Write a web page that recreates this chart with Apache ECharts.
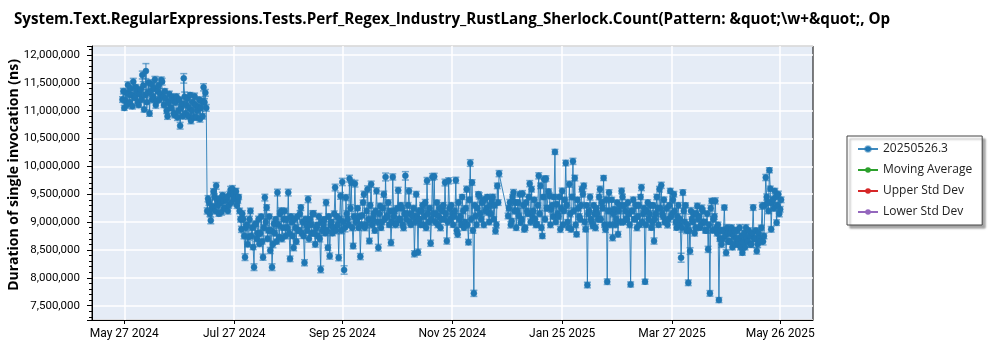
<!DOCTYPE html>
<html>
<head>
<meta charset="utf-8">
<script src="https://cdn.jsdelivr.net/npm/echarts@6/dist/echarts.min.js"></script>
<style>
  html, body { margin: 0; padding: 0; background: #ffffff; }
  #chart { width: 1000px; height: 350px; }
</style>
</head>
<body>
<div id="chart"></div>
<script>
// Benchmark history: two runs per day (morning / evening), duration in ns.
const chartTitle = 'System.Text.RegularExpressions.Tests.Perf_Regex_Industry_RustLang_Sherlock.Count(Pattern: &quot;\\w+&quot;, Op';
const yAxisTitle = 'Duration of single invocation (ns)';
const seriesNames = ['20250526.3', 'Moving Average', 'Upper Std Dev', 'Lower Std Dev'];
const seriesColors = ['#1f77b4', '#2ca02c', '#d62728', '#9467bd'];

const firstRunDate = '2024-05-26';
// null = no run that day
const morningRuns = [
  11200000, 11050000, 11320000, 11460000, 11150000, 11280000, 11520000, 11230000, 11350000, 11100000,
  11380000, 11640000, 11020000, 11710000, 11320000, 10950000, 11480000, 11250000, 11560000, 11180000,
  11450000, 11300000, 11520000, 11100000, 11220000, 10900000, 11300000, 11050000, 11180000, 10920000,
  11250000, 11000000, 10730000, 11120000, 11580000, 10950000, 11220000, 11050000, 10820000, 11150000,
  11260000, 10880000, 11060000, 10850000, 11170000, 11420000, 11320000, 9200000, 9350000, 9030000,
  9280000, 9450000, 9650000, 9300000, 9420000, 9180000, 9380000, 9250000, 9450000, 9300000,
  9580000, 9600000, 9420000, 9550000, 9380000, 9200000, 8870000, 9050000, 8370000, 8950000,
  8730000, 9200000, 8900000, 8190000, 8970000, 8800000, 8610000, 9100000, 8370000, 9440000,
  9260000, 8850000, 8490000, 8190000, 8970000, 9050000, 9530000, 8730000, 9200000, 8900000,
  9200000, 9050000, 9530000, 8340000, 9000000, 8540000, 8900000, 9100000, 8850000, 9260000,
  9000000, 8270000, 8950000, 9410000, 9050000, 8800000, 9150000, 8600000, 8950000, 9100000,
  8150000, 8850000, 9050000, 9350000, 8540000, 8390000, 9000000, 8900000, 9620000, 9100000,
  8360000, 9470000, 9720000, 8140000, 9440000, 9050000, 9780000, 9710000, 8570000, 9690000,
  9050000, 8900000, 8380000, 9120000, 9500000, 8950000, 9590000, 8660000, 9680000, 9050000,
  8850000, 9560000, 8540000, 9290000, 9000000, 9500000, 9810000, 9100000, 8950000, 8630000,
  9810000, 9200000, 8980000, 9570000, 9050000, 9250000, 8900000, 9830000, 9150000, 9560000,
  8950000, 9100000, 8430000, 9500000, 8460000, 9050000, 9200000, 8950000, 9350000, 9740000,
  9000000, 8620000, 9810000, 9820000, 9150000, 8950000, 9250000, 9050000, 9300000, 9710000,
  8660000, 9740000, 9050000, 9150000, 9100000, 9750000, 8780000, 9050000, 8950000, 9200000,
  9000000, 9590000, 8640000, 10060000, 9710000, 7720000, 9110000, 9250000, 9470000, 9050000,
  9380000, 9410000, 9250000, 9170000, 9300000, 9380000, 9050000, 8840000, 9650000, 9870000,
  null, null, null, null, 9110000, 9350000, 9020000, 9530000, 9350000, 9200000,
  9110000, 8990000, 9510000, 8870000, 9350000, 9150000, 9690000, 9590000, 9200000, 9050000,
  8960000, 9830000, 9650000, 8750000, 9770000, 9780000, 9250000, 9470000, 9230000, 9100000,
  10260000, 9320000, 9100000, 8870000, 9560000, 9200000, 10060000, 9000000, 9680000, 8870000,
  10090000, 9790000, 8780000, 9250000, 9050000, 9590000, 9650000, 8870000, 7870000, 9200000,
  9050000, 8930000, 9150000, 9250000, 9050000, 9590000, 9350000, 9790000, 8870000, 7930000,
  9530000, 9200000, 8720000, 9230000, 9050000, 8780000, 9300000, 9560000, 9000000, 9200000,
  9050000, 9150000, 7880000, 9200000, 9050000, 9300000, 9100000, 8950000, 9620000, 9150000,
  7930000, 9200000, 9050000, 9300000, 9000000, 8660000, 9150000, 9250000, 9590000, 9660000,
  9100000, 9000000, 9250000, 9050000, 9560000, 9150000, 9500000, 9000000, 9100000, 8950000,
  8360000, 9530000, 9000000, 8850000, 7910000, 8480000, 9050000, 9150000, 8900000, 9290000,
  9100000, 8950000, 9200000, 9000000, 8850000, 8510000, 7720000, 9380000, 9050000, 9380000,
  8800000, 7600000, 8850000, 8700000, 9260000, 8450000, 8800000, 8650000, 8900000, 8750000,
  8600000, 8850000, 8700000, 8550000, 8450000, 8800000, 8900000, 8650000, 8750000, 8600000,
  9260000, 8700000, 8480000, 8800000, 8650000, 9290000, 8750000, 9800000, 9350000, 9930000,
  8870000, 9410000, 9560000, 8990000, 9500000, 9230000
];
const eveningRuns = [
  11350000, 11180000, 11100000, 11300000, 11400000, 11080000, 11250000, 11420000, 11150000, 11300000,
  11200000, 11450000, 11280000, 11150000, 11500000, 11350000, 11200000, 11400000, 11100000, 11350000,
  11200000, 11550000, 11250000, 11350000, 11000000, 11150000, 11050000, 11250000, 10950000, 11150000,
  10880000, 11200000, 11050000, 10900000, 11250000, 11100000, 10900000, 11280000, 11000000, 10880000,
  11100000, 11000000, 11200000, 11050000, 10900000, 11150000, 11050000, 9420000, 9150000, 9250000,
  9550000, 9200000, 9400000, 9150000, 9350000, 9480000, 9250000, 9400000, 9200000, 9500000,
  9350000, 9480000, 9550000, 9300000, 9450000, 9050000, 9150000, 8750000, 8900000, 8600000,
  9050000, 8750000, 8550000, 8950000, 8700000, 9050000, 8800000, 8650000, 8900000, 9000000,
  8700000, 9100000, 8850000, 8600000, 8800000, 8650000, 8950000, 9150000, 8700000, 9050000,
  8750000, 8900000, 8800000, 9100000, 8750000, 9050000, 8650000, 8850000, 9150000, 8800000,
  8750000, 9050000, 8850000, 8700000, 8950000, 9150000, 8800000, 8900000, 8750000, 8700000,
  9000000, 8950000, 8800000, 8850000, 9100000, 8950000, 8800000, 9150000, 8850000, 8950000,
  9050000, 8850000, 9000000, 8900000, 9150000, 8950000, 9250000, 8900000, 9100000, 9000000,
  9250000, 9100000, 8950000, 9350000, 8900000, 9200000, 9050000, 9300000, 8950000, 9150000,
  9200000, 9000000, 9150000, 8900000, 9250000, 9050000, 9100000, 9350000, 9200000, 9000000,
  9100000, 8950000, 9250000, 9050000, 9300000, 8950000, 9150000, 9050000, 9300000, 9000000,
  9150000, 9250000, 9000000, 9100000, 9200000, 8950000, 9300000, 9100000, 8900000, 9150000,
  9250000, 9050000, 9150000, 9000000, 9350000, 9100000, 8900000, 9200000, 9050000, 9150000,
  9000000, 9250000, 9300000, 8950000, 9200000, 8850000, 9350000, 9100000, 9450000, 8900000,
  9250000, 8950000, 9400000, 9050000, 8850000, 9300000, 8950000, 9500000, 9150000, 9350000,
  8950000, 9200000, 9450000, 9000000, 9150000, 9450000, 9300000, 8950000, 9350000, null,
  null, null, null, null, 9250000, 8950000, 9450000, 9200000, 8900000, 9350000,
  9500000, 9050000, 9300000, 8900000, 9200000, 9450000, 9000000, 9100000, 9400000, 8950000,
  9300000, 9150000, 8900000, 9450000, 9050000, 9250000, 9550000, 8950000, 9300000, 9450000,
  9000000, 9150000, 9450000, 9250000, 8950000, 9400000, 9300000, 8900000, 9150000, 9450000,
  9200000, 8950000, 9400000, 9100000, 9300000, 9500000, 9000000, 9300000, 9150000, 9450000,
  9000000, 9300000, 8900000, 9150000, 9450000, 9050000, 9250000, 8950000, 9400000, 9200000,
  8950000, 9400000, 9150000, 8950000, 9350000, 9200000, 9000000, 9450000, 9300000, 9050000,
  9350000, 8950000, 9200000, 9400000, 9050000, 8900000, 9300000, 9450000, 9000000, 9250000,
  8950000, 9350000, 9150000, 8900000, 9300000, 9050000, 9450000, 8950000, 9250000, 9150000,
  9400000, 9000000, 8950000, 9300000, 9100000, 9400000, 9200000, 8900000, 9300000, 9050000,
  8900000, 9200000, 9300000, 8950000, 8850000, 9200000, 9000000, 8800000, 9150000, 9050000,
  8900000, 9250000, 9000000, 8850000, 9150000, 8950000, 9250000, 8850000, 9100000, 8900000,
  8950000, 8700000, 8600000, 8850000, 8750000, 8900000, 8650000, 8800000, 8550000, 8850000,
  8700000, 8600000, 8900000, 8750000, 8650000, 8550000, 8700000, 8850000, 8600000, 8800000,
  8700000, 8850000, 8600000, 8700000, 8900000, 8650000, 9300000, 9450000, 9200000, 9600000,
  9350000, 9250000, 9450000, 9300000, 9150000, 9400000
];
// half-width of that day's error bars, ns
const errors = [
  50000, 45000, 55000, 60000, 45000, 50000, 60000, 50000, 55000, 45000,
  55000, 70000, 45000, 135000, 55000, 50000, 60000, 50000, 55000, 45000,
  50000, 55000, 60000, 45000, 50000, 55000, 50000, 45000, 55000, 50000,
  55000, 45000, 60000, 50000, 85000, 50000, 55000, 45000, 55000, 50000,
  55000, 50000, 45000, 55000, 50000, 65000, 60000, 55000, 50000, 60000,
  50000, 55000, 60000, 45000, 50000, 55000, 50000, 45000, 55000, 50000,
  60000, 55000, 50000, 55000, 45000, 50000, 55000, 50000, 60000, 45000,
  55000, 50000, 45000, 60000, 50000, 55000, 50000, 45000, 55000, 60000,
  50000, 45000, 55000, 60000, 50000, 45000, 60000, 50000, 55000, 45000,
  50000, 55000, 60000, 50000, 45000, 55000, 50000, 45000, 55000, 50000,
  45000, 55000, 50000, 60000, 45000, 50000, 55000, 50000, 45000, 55000,
  60000, 50000, 45000, 55000, 50000, 55000, 45000, 50000, 60000, 50000,
  55000, 60000, 65000, 75000, 55000, 50000, 60000, 55000, 50000, 60000,
  45000, 50000, 55000, 45000, 55000, 50000, 60000, 50000, 55000, 45000,
  50000, 55000, 60000, 50000, 45000, 55000, 70000, 50000, 45000, 55000,
  55000, 50000, 45000, 55000, 50000, 45000, 55000, 75000, 50000, 55000,
  45000, 50000, 55000, 50000, 55000, 45000, 50000, 45000, 55000, 60000,
  50000, 55000, 60000, 55000, 45000, 50000, 55000, 45000, 50000, 60000,
  55000, 55000, 50000, 45000, 50000, 55000, 55000, 50000, 45000, 50000,
  45000, 55000, 50000, 60000, 50000, 55000, 50000, 45000, 55000, 50000,
  50000, 55000, 45000, 50000, 55000, 50000, 45000, 55000, 50000, 55000,
  null, null, null, null, 50000, 55000, 45000, 55000, 50000, 45000,
  50000, 45000, 55000, 50000, 45000, 50000, 55000, 50000, 45000, 50000,
  45000, 55000, 50000, 45000, 55000, 50000, 45000, 50000, 55000, 45000,
  45000, 50000, 45000, 55000, 50000, 45000, 50000, 45000, 55000, 50000,
  55000, 50000, 45000, 50000, 55000, 50000, 50000, 45000, 50000, 55000,
  45000, 50000, 55000, 45000, 50000, 55000, 50000, 45000, 55000, 50000,
  50000, 45000, 55000, 50000, 45000, 50000, 55000, 50000, 45000, 50000,
  55000, 50000, 45000, 50000, 45000, 55000, 50000, 45000, 55000, 50000,
  45000, 50000, 55000, 45000, 50000, 55000, 50000, 45000, 50000, 55000,
  50000, 45000, 55000, 50000, 45000, 60000, 50000, 45000, 50000, 55000,
  80000, 50000, 45000, 55000, 50000, 60000, 45000, 50000, 55000, 50000,
  45000, 55000, 50000, 45000, 50000, 55000, 50000, 45000, 50000, 55000,
  50000, 45000, 55000, 50000, 45000, 55000, 50000, 45000, 50000, 55000,
  45000, 50000, 55000, 50000, 45000, 50000, 55000, 45000, 50000, 55000,
  50000, 45000, 55000, 50000, 45000, 60000, 50000, 55000, 50000, 45000,
  50000, 55000, 45000, 50000, 55000, 50000
];

const tickDates = ['2024-05-27', '2024-07-27', '2024-09-25', '2024-11-25', '2025-01-25', '2025-03-27', '2025-05-26'];
const tickLabels = ['May 27 2024', 'Jul 27 2024', 'Sep 25 2024', 'Nov 25 2024', 'Jan 25 2025', 'Mar 27 2025', 'May 26 2025'];
const xRange = ['2024-05-09T02:00:00Z', '2025-06-13T05:00:00Z'];
const yRange = [7242000, 12161000];
const yStep = 500000;

const DAY_MS = 86400000;
const TITLE_FONT = '"Open Sans", "Noto Sans", sans-serif';
const LABEL_FONT = 'Roboto, "Open Sans", sans-serif';
const startTs = Date.parse(firstRunDate + 'T00:00:00Z');
const tickTs = tickDates.map(d => Date.parse(d + 'T00:00:00Z'));

// merge both daily runs into one time-ordered list
const points = [];
const bars = [];
morningRuns.forEach((am, i) => {
  const dayTs = startTs + i * DAY_MS;
  [[dayTs, am], [dayTs + DAY_MS / 2, eveningRuns[i]]].forEach(([t, v]) => {
    if (v == null) return;
    points.push([t, v]);
    bars.push([t, v - errors[i], v + errors[i]]);
  });
});

function tickLabel(value) {
  for (let i = 0; i < tickTs.length; i++) {
    if (Math.abs(tickTs[i] - value) < DAY_MS / 2) return tickLabels[i];
  }
  return '';
}

function renderErrorBar(params, api) {
  const x = api.value(0);
  const lo = api.coord([x, api.value(1)]);
  const hi = api.coord([x, api.value(2)]);
  const w = 3.5;
  const style = { stroke: 'rgba(31,119,180,0.6)', lineWidth: 1.5 };
  return {
    type: 'group',
    children: [
      { type: 'line', shape: { x1: lo[0], y1: lo[1], x2: hi[0], y2: hi[1] }, style },
      { type: 'line', shape: { x1: lo[0] - w, y1: lo[1], x2: lo[0] + w, y2: lo[1] }, style },
      { type: 'line', shape: { x1: hi[0] - w, y1: hi[1], x2: hi[0] + w, y2: hi[1] }, style }
    ]
  };
}

const chart = echarts.init(document.getElementById('chart'), null, { renderer: 'canvas' });

const emptySeries = seriesNames.slice(1).map((name, k) => ({
  name,
  type: 'line',
  data: [],
  symbol: 'circle',
  itemStyle: { color: seriesColors[k + 1] },
  lineStyle: { color: seriesColors[k + 1], width: 1 }
}));

chart.setOption({
  animation: false,
  textStyle: { fontFamily: LABEL_FONT },
  title: {
    text: chartTitle,
    left: 9,
    top: 7,
    padding: 5,
    textStyle: { fontFamily: TITLE_FONT, fontSize: 15.2, fontWeight: 'bold', color: '#000' }
  },
  graphic: [{
    type: 'text',
    x: 14,
    y: 175,
    rotation: Math.PI / 2,
    style: {
      text: yAxisTitle,
      fontFamily: TITLE_FONT,
      fontSize: 14,
      fontWeight: 'bold',
      fill: '#000',
      align: 'center',
      verticalAlign: 'middle'
    }
  }],
  legend: {
    data: seriesNames,
    orient: 'vertical',
    left: 847,
    top: 136,
    padding: [7, 10, 7, 10],
    itemWidth: 20,
    itemHeight: 7,
    itemGap: 9,
    backgroundColor: '#ffffff',
    borderColor: '#444444',
    borderWidth: 1,
    shadowColor: 'rgba(0,0,0,0.35)',
    shadowBlur: 2,
    shadowOffsetX: 3,
    shadowOffsetY: 3,
    textStyle: { fontFamily: TITLE_FONT, fontSize: 12, color: '#222' }
  },
  grid: {
    left: 92,
    right: 187,
    top: 46,
    bottom: 30,
    show: true,
    backgroundColor: '#E5ECF6',
    borderColor: '#000',
    borderWidth: 1
  },
  xAxis: {
    type: 'value',
    min: Date.parse(xRange[0]),
    max: Date.parse(xRange[1]),
    axisLine: { show: true, lineStyle: { color: '#000', width: 1 } },
    axisTick: { show: true, length: 4, customValues: tickTs, lineStyle: { color: '#000' } },
    axisLabel: {
      customValues: tickTs,
      formatter: tickLabel,
      margin: 8,
      fontFamily: LABEL_FONT,
      fontSize: 12,
      color: '#000',
      hideOverlap: false
    },
    splitLine: { show: true, lineStyle: { color: '#ffffff', width: 1.5 } }
  },
  yAxis: {
    type: 'value',
    min: yRange[0],
    max: yRange[1],
    splitNumber: 10,
    minInterval: yStep,
    maxInterval: yStep,
    axisLine: { show: true, lineStyle: { color: '#000', width: 1 } },
    axisTick: { show: true, length: 5, lineStyle: { color: '#000' } },
    minorTick: { show: true, splitNumber: 5, length: 3, lineStyle: { color: '#000' } },
    axisLabel: {
      margin: 12,
      fontFamily: LABEL_FONT,
      fontSize: 11.5,
      color: '#000',
      showMinLabel: false,
      showMaxLabel: false,
      formatter: v => Math.round(v).toLocaleString('en-US')
    },
    splitLine: { show: true, lineStyle: { color: '#ffffff', width: 1.5 } }
  },
  series: [
    {
      name: 'error bars',
      type: 'custom',
      data: bars,
      encode: { x: 0, y: [1, 2] },
      renderItem: renderErrorBar,
      clip: true,
      silent: true,
      z: 2
    },
    {
      name: seriesNames[0],
      type: 'line',
      data: points,
      symbol: 'circle',
      symbolSize: 6,
      showAllSymbol: true,
      itemStyle: { color: seriesColors[0], borderColor: 'rgba(31,119,180,0.5)', borderWidth: 1 },
      lineStyle: { color: seriesColors[0], width: 1, opacity: 0.85 },
      emphasis: { disabled: true },
      clip: true,
      z: 3
    },
    ...emptySeries
  ]
});
</script>
</body>
</html>
